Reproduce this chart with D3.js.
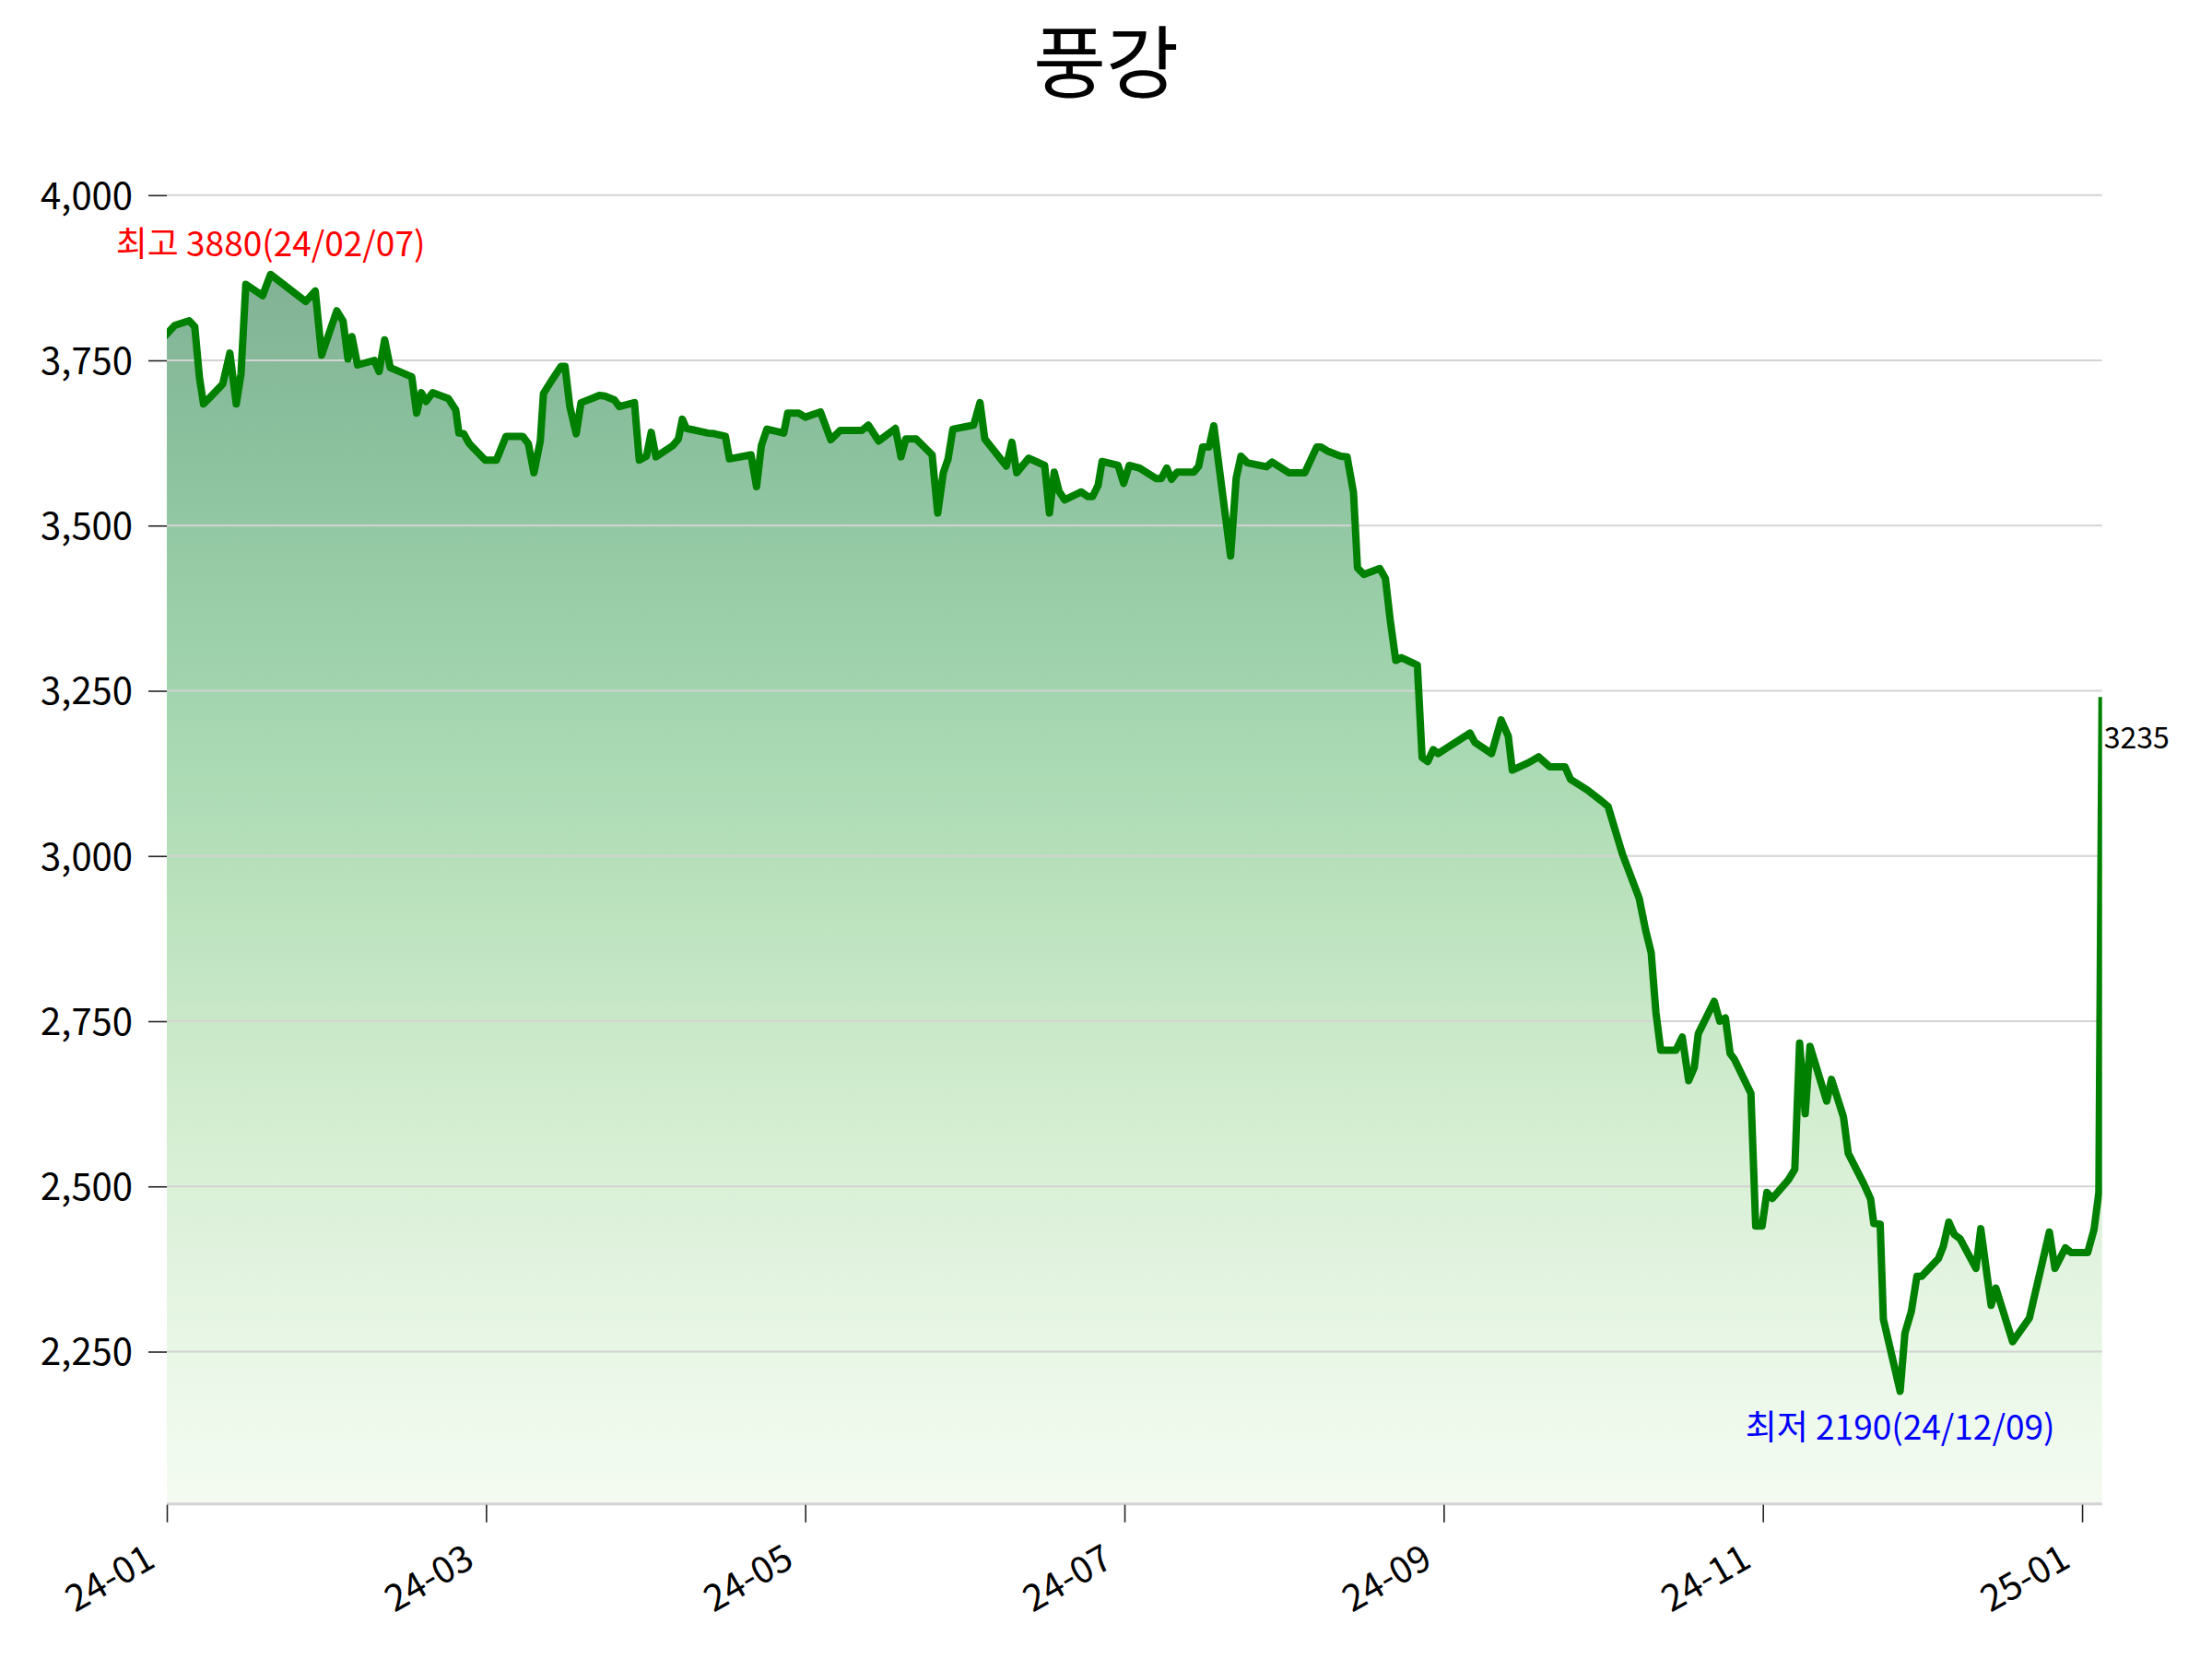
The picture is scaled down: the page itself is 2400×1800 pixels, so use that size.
<!DOCTYPE html>
<html>
<head>
<meta charset="utf-8">
<script src="https://cdn.jsdelivr.net/npm/d3@7"></script>
<style>
	body { margin: 0; background: #fff; }
	text { font-family: "Noto Sans CJK KR", "Noto Sans", sans-serif; }
</style>
</head>
<body>
<svg id="chart" width="2400" height="1800"></svg>
<script>
const chartTitle = "풍강";

// trading-day position and close price
const pos = [
	0, 1.0, 2.8, 3.5, 4.1, 4.6, 5.5, 7.0, 7.9, 8.7,
	9.3, 9.9, 12.0, 13.0, 17.4, 18.6, 19.4, 21.3, 22.1, 22.7,
	23.2, 23.9, 26.0, 26.6, 27.3, 28.0, 30.7, 31.3, 31.9, 32.5,
	33.3, 35.3, 36.2, 36.6, 37.2, 37.9, 39.9, 41.3, 42.5, 44.6,
	45.3, 46.0, 46.8, 47.2, 48.2, 49.4, 49.9, 50.5, 51.3, 51.9,
	53.0, 54.2, 54.9, 56.1, 56.7, 58.6, 59.2, 60.1, 60.7, 61.3,
	63.4, 64.1, 64.6, 65.1, 65.9, 67.8, 68.6, 70.0, 70.5, 73.2,
	73.9, 74.5, 75.2, 77.3, 77.8, 79.2, 80.0, 81.9, 83.2, 84.4,
	87.1, 87.9, 89.2, 91.3, 92.0, 92.6, 93.9, 95.9, 96.6, 97.3,
	97.9, 98.5, 101.1, 101.9, 102.5, 105.2, 105.9, 106.5, 108.0, 110.0,
	110.6, 111.2, 111.8, 112.5, 114.6, 115.4, 116.0, 116.7, 117.2, 119.2,
	119.9, 120.6, 121.9, 124.0, 124.6, 125.3, 125.9, 126.6, 128.7, 129.3,
	129.8, 130.6, 131.2, 133.3, 134.0, 134.6, 135.4, 137.8, 138.5, 140.6,
	142.6, 144.1, 144.6, 145.4, 147.1, 147.9, 148.7, 149.2, 150.0, 152.0,
	152.7, 153.3, 154.0, 154.7, 156.7, 157.3, 158.0, 158.7, 159.3, 163.3,
	163.9, 166.0, 167.2, 168.1, 168.6, 170.6, 171.9, 173.3, 175.2, 175.9,
	178.0, 179.7, 180.6, 182.4, 184.5, 185.3, 186.0, 186.6, 187.2, 189.1,
	189.9, 190.7, 191.4, 191.9, 193.9, 194.6, 195.3, 195.9, 196.4, 198.5,
	199.1, 199.9, 200.5, 201.2, 203.2, 204.0, 204.6, 205.3, 205.9, 208.0,
	208.6, 210.1, 210.7, 212.6, 213.5, 213.9, 214.7, 215.1, 217.2, 217.8,
	218.6, 219.3, 219.9, 222.0, 222.6, 223.3, 224.0, 224.7, 226.7, 227.3,
	228.6, 229.2, 231.3, 233.4, 235.9, 236.6, 237.9, 238.6, 240.7, 241.5,
	242.1, 242.5
];
const price = [
	3790, 3803, 3810, 3801, 3723, 3684, 3695, 3714, 3761, 3684,
	3730, 3865, 3848, 3880, 3839, 3855, 3758, 3825, 3809, 3752,
	3786, 3743, 3750, 3733, 3781, 3739, 3725, 3670, 3701, 3688,
	3701, 3692, 3675, 3640, 3639, 3624, 3599, 3599, 3635, 3635,
	3624, 3580, 3628, 3700, 3719, 3741, 3741, 3680, 3639, 3686,
	3691, 3697, 3696, 3690, 3680, 3686, 3599, 3605, 3641, 3604,
	3621, 3631, 3661, 3647, 3645, 3640, 3639, 3635, 3601, 3607,
	3559, 3621, 3646, 3640, 3670, 3670, 3664, 3672, 3630, 3644,
	3644, 3652, 3628, 3647, 3604, 3631, 3631, 3607, 3519, 3580,
	3601, 3646, 3652, 3686, 3631, 3590, 3626, 3580, 3602, 3591,
	3519, 3581, 3552, 3539, 3551, 3544, 3544, 3561, 3597, 3591,
	3564, 3591, 3587, 3571, 3571, 3587, 3570, 3581, 3581, 3590,
	3619, 3619, 3651, 3454, 3572, 3605, 3595, 3589, 3596, 3580,
	3580, 3619, 3619, 3613, 3605, 3604, 3550, 3436, 3426, 3435,
	3420, 3357, 3296, 3300, 3289, 3149, 3143, 3161, 3155, 3186,
	3172, 3155, 3206, 3181, 3130, 3141, 3150, 3135, 3135, 3116,
	3100, 3084, 3075, 3003, 2936, 2888, 2854, 2763, 2706, 2706,
	2726, 2660, 2680, 2731, 2780, 2750, 2755, 2701, 2693, 2641,
	2440, 2440, 2491, 2482, 2510, 2526, 2717, 2610, 2712, 2629,
	2662, 2605, 2550, 2505, 2481, 2444, 2443, 2299, 2190, 2278,
	2311, 2364, 2364, 2391, 2409, 2446, 2427, 2421, 2376, 2436,
	2320, 2346, 2265, 2301, 2431, 2376, 2407, 2400, 2400, 2435,
	2491, 3235
];

const xTickPos = [0, 40, 80, 120, 160, 200, 240];
const xTickLabels = ["24-01", "24-03", "24-05", "24-07", "24-09", "24-11", "25-01"];
const yTicks = [2250, 2500, 2750, 3000, 3250, 3500, 3750, 4000];
const highDate = "24/02/07";
const lowDate = "24/12/09";

let margin = { top: 176.6, right: 119.3, bottom: 169.3, left: 181 };
let width = 2400 - margin.left - margin.right;
let height = 1800 - margin.top - margin.bottom;

function drawChart() {
	const svg = d3.select("#chart");
	const data = pos.map((p, i) => ({ p: p, v: price[i] }));

	const vMax = d3.max(price);
	const vMin = d3.min(price);
	const pad = (vMax - vMin) * 0.1;

	const x = d3.scaleLinear().domain([0, d3.max(pos)]).range([0, width]);
	const y = d3.scaleLinear().domain([vMin - pad, vMax + pad]).range([height, 0]);

	svg.append("text")
		.attr("x", 1200)
		.attr("y", 100)
		.attr("text-anchor", "middle")
		.attr("font-size", 86)
		.attr("fill", "#000")
		.text(chartTitle);

	const defs = svg.append("defs");
	defs.append("clipPath")
		.attr("id", "plotClip")
		.append("rect")
		.attr("width", width)
		.attr("height", height);

	// green gradient under the line, fading to white at the bottom
	const grad = defs.append("linearGradient")
		.attr("id", "fillGrad")
		.attr("gradientUnits", "userSpaceOnUse")
		.attr("x1", 0).attr("x2", 0)
		.attr("y1", y(vMax)).attr("y2", height);
	grad.selectAll("stop")
		.data(d3.range(0, 1.0001, 0.1))
		.enter()
		.append("stop")
		.attr("offset", (t) => `${t * 100}%`)
		.attr("stop-color", (t) => d3.interpolateRgb("#fff", d3.interpolateGreens(0.9 - 0.8 * t))(0.5));

	const g = svg.append("g")
		.attr("transform", `translate(${margin.left},${margin.top})`);

	const area = d3.area()
		.x((d) => x(d.p))
		.y0(height)
		.y1((d) => y(d.v));

	g.append("path")
		.datum(data)
		.attr("d", area)
		.attr("fill", "url(#fillGrad)");

	g.selectAll(".grid")
		.data(yTicks)
		.enter()
		.append("line")
		.attr("class", "grid")
		.attr("x1", 0)
		.attr("x2", width)
		.attr("y1", (d) => y(d))
		.attr("y2", (d) => y(d))
		.attr("stroke", "#d3d3d3")
		.attr("stroke-width", 2);

	g.append("line")
		.attr("x1", 0)
		.attr("x2", width)
		.attr("y1", height + 1)
		.attr("y2", height + 1)
		.attr("stroke", "#d3d3d3")
		.attr("stroke-width", 3);

	const line = d3.line()
		.x((d) => x(d.p))
		.y((d) => y(d.v));

	g.append("path")
		.datum(data)
		.attr("d", line)
		.attr("clip-path", "url(#plotClip)")
		.attr("fill", "none")
		.attr("stroke", "#008000")
		.attr("stroke-width", 8)
		.attr("stroke-linejoin", "round")
		.attr("stroke-linecap", "square");

	// y axis
	const yAxis = g.append("g")
		.call(d3.axisLeft(y)
			.tickValues(yTicks)
			.tickSize(20)
			.tickPadding(17)
			.tickFormat(d3.format(",")));
	yAxis.select(".domain").remove();
	yAxis.selectAll(".tick line").attr("stroke", "#222").attr("stroke-width", 1.6);
	yAxis.selectAll(".tick text")
		.attr("font-size", 40)
		.attr("font-family", '"Noto Sans CJK KR", "Noto Sans", sans-serif')
		.attr("fill", "#000")
		.attr("dy", "0.36em");

	// x axis
	const xAxis = g.append("g")
		.attr("transform", `translate(0,${height + 2})`)
		.call(d3.axisBottom(x)
			.tickValues(xTickPos)
			.tickSize(19)
			.tickFormat((d, i) => xTickLabels[i]));
	xAxis.select(".domain").remove();
	xAxis.selectAll(".tick line").attr("stroke", "#222").attr("stroke-width", 1.6);
	xAxis.selectAll(".tick text")
		.attr("font-size", 40)
		.attr("font-family", '"Noto Sans CJK KR", "Noto Sans", sans-serif')
		.attr("fill", "#000")
		.attr("x", 0)
		.attr("y", 0)
		.attr("dy", 0)
		.attr("text-anchor", "end")
		.attr("transform", "translate(-11,66) rotate(-30)");

	// high / low / last annotations
	const iMax = d3.maxIndex(price);
	const iMin = d3.minIndex(price);
	const last = data[data.length - 1];

	g.append("text")
		.attr("x", x(pos[iMax]))
		.attr("y", y(vMax) - 20)
		.attr("text-anchor", "middle")
		.attr("font-size", 37)
		.attr("fill", "red")
		.text(`최고 ${vMax}(${highDate})`);

	g.append("text")
		.attr("x", x(pos[iMin]))
		.attr("y", y(vMin) + 52)
		.attr("text-anchor", "middle")
		.attr("font-size", 37)
		.attr("fill", "blue")
		.text(`최저 ${vMin}(${lowDate})`);

	g.append("text")
		.attr("x", x(last.p) + 2)
		.attr("y", y(last.v) + 52)
		.attr("font-size", 32)
		.attr("fill", "#000")
		.text(last.v);
}

drawChart();
</script>
</body>
</html>
